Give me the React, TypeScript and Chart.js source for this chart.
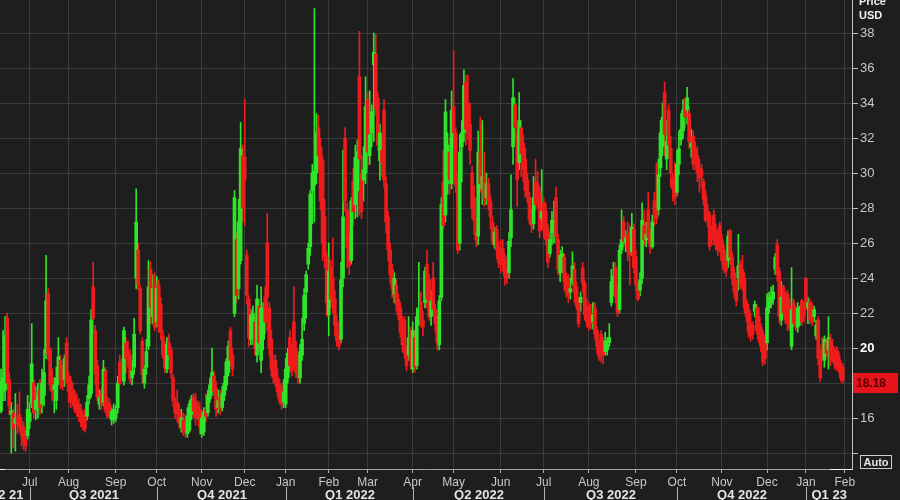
import React, { useEffect, useRef } from 'react';
import { Chart, registerables } from 'chart.js';
Chart.register(...registerables);

// Daily candles (trading days)
const opens = [
16.4,17.5,17.6,21.7,18.2,16.2,16.3,15.7,16.0,16.2,
15.6,15.5,14.8,15.0,15.8,16.9,18.0,16.5,16.6,17.6,
16.8,17.3,19.7,23.1,19.9,18.3,17.6,17.0,18.3,19.3,
18.6,18.2,20.3,18.4,18.1,17.6,17.3,17.0,16.8,16.5,
16.2,16.2,16.1,17.1,17.4,23.5,21.0,19.0,16.8,17.4,
16.9,18.7,16.9,16.8,15.9,15.9,16.0,16.6,19.2,19.0,
18.1,20.3,19.8,19.6,18.3,18.9,24.0,25.6,23.4,20.4,
18.0,18.9,20.1,24.5,21.8,23.6,21.5,23.6,22.5,20.7,
19.9,18.8,20.3,19.9,18.3,16.8,16.9,16.4,15.5,15.9,
15.5,15.1,15.3,16.2,17.2,16.9,16.7,16.5,15.1,15.2,
16.5,16.3,17.1,17.5,18.4,17.7,16.6,17.2,16.6,17.3,
17.9,18.6,21.0,19.6,22.0,26.2,23.4,25.0,31.0,30.9,
25.3,22.8,20.5,20.6,21.5,19.6,22.4,19.3,20.5,23.0,
26.0,22.3,20.5,19.0,19.3,18.3,17.9,17.6,16.9,16.8,
18.3,20.6,19.8,21.5,20.0,19.2,18.3,19.6,21.4,23.2,
24.8,25.8,29.0,29.3,30.0,32.6,31.5,30.7,27.5,25.2,
21.9,24.6,24.0,22.8,21.5,20.5,20.5,24.0,32.0,27.9,
25.9,25.0,29.5,28.2,29.0,35.5,30.0,29.6,30.0,34.2,
31.0,32.3,36.2,36.8,34.3,30.7,31.3,33.6,29.4,27.5,
25.6,24.5,23.1,23.6,22.8,22.3,21.3,21.6,19.8,19.6,
20.9,18.8,20.6,19.0,21.8,22.6,21.6,22.6,24.8,23.9,
21.8,24.0,22.2,21.5,20.2,22.9,29.5,27.6,29.4,31.2,
29.4,33.8,32.3,29.6,26.0,31.5,32.3,35.2,34.0,32.8,
30.0,28.6,26.7,26.4,31.2,29.1,29.8,28.6,29.4,28.4,
27.2,25.9,26.8,25.8,25.5,25.7,25.2,24.3,24.3,26.3,
31.5,33.9,32.3,30.6,32.6,31.7,30.8,29.6,28.6,27.6,
27.1,29.5,29.4,28.9,27.4,28.3,27.8,26.8,25.4,26.6,
26.9,28.6,26.2,24.3,24.9,25.2,24.1,23.6,23.2,23.8,
24.5,23.5,22.6,22.6,24.6,23.7,22.4,22.4,22.0,21.5,
22.3,21.0,20.2,20.8,20.4,19.8,19.9,20.3,22.6,23.3,
24.6,23.2,22.2,25.6,27.2,26.0,26.4,26.6,25.5,26.8,
25.2,23.7,23.3,24.0,27.0,26.2,27.9,26.5,25.8,28.4,
28.5,27.9,30.3,31.5,34.6,30.8,33.6,31.4,29.7,29.4,
28.9,30.5,31.9,32.4,33.9,33.6,33.4,31.5,32.1,31.4,
31.0,30.3,30.2,29.5,28.7,27.8,27.6,26.6,27.6,26.8,
26.4,27.0,26.2,25.6,25.0,25.0,26.7,25.2,24.3,23.6,
24.0,24.8,24.5,24.0,22.6,22.2,21.4,21.3,22.1,22.3,
21.8,21.2,20.8,20.4,20.3,22.3,22.6,22.8,24.5,25.9,
24.4,21.6,23.5,22.6,23.1,22.4,20.1,22.6,22.1,21.2,
21.6,22.7,22.4,24.0,22.3,22.6,22.3,21.8,20.7,21.6,
19.6,20.2,19.3,20.3,19.9,20.5,20.1,19.9,19.9,19.6,
19.1,18.9
];
const highs = [
18.8,21.0,21.8,22.0,18.6,16.9,16.5,17.4,16.8,17.5,
16.0,15.8,15.3,17.3,16.9,21.4,18.2,17.8,18.0,18.2,
18.8,19.9,25.3,23.4,20.0,18.8,18.3,18.9,20.6,19.6,
19.0,19.6,20.6,18.6,18.4,18.0,17.6,17.4,17.1,16.8,
16.4,16.5,17.3,18.4,22.2,24.9,21.3,19.3,17.6,17.7,
19.3,18.9,17.2,17.1,16.6,16.8,16.7,18.4,19.6,19.4,
21.2,20.6,20.4,19.9,19.3,21.7,29.1,26.0,23.6,20.6,
19.0,20.5,25.0,24.9,24.2,24.3,24.1,23.9,22.9,21.0,
20.4,20.6,20.8,20.1,18.5,17.2,17.6,16.8,16.5,16.3,
16.2,16.6,17.0,17.3,17.4,17.4,17.0,16.9,16.4,16.6,
17.4,17.6,18.3,20.0,18.7,18.1,17.6,17.6,17.8,18.4,
19.4,20.4,21.2,20.0,29.0,26.6,28.5,32.9,31.6,34.2,
25.6,23.0,22.2,22.4,21.8,23.6,22.8,23.5,22.6,23.5,
27.7,22.6,21.0,19.6,19.6,18.8,18.2,18.0,18.2,19.4,
20.0,21.0,20.2,23.5,20.4,19.6,20.2,21.7,23.4,24.4,
26.0,29.0,30.5,39.4,33.4,33.3,32.0,31.0,28.5,25.5,
26.0,25.0,26.3,23.3,21.9,20.8,24.9,31.3,32.6,28.3,
26.5,28.6,30.3,31.6,31.9,38.1,31.0,31.5,35.5,34.6,
34.7,33.9,38.0,37.9,34.6,32.8,32.0,34.2,29.8,27.8,
26.0,24.8,24.3,23.9,23.1,22.6,21.8,21.8,20.1,21.8,
21.2,21.5,21.0,22.3,24.9,23.2,22.1,24.6,25.6,24.2,
23.3,24.9,22.5,21.8,23.0,28.6,31.3,34.2,32.3,32.0,
34.7,37.0,32.6,30.1,32.2,33.0,35.9,35.6,35.6,34.0,
30.4,29.3,27.4,32.4,33.2,33.0,31.2,30.0,29.7,28.7,
27.5,26.9,27.0,26.1,26.2,26.2,25.4,24.6,26.6,29.9,
35.4,34.3,32.6,34.6,33.0,32.2,31.4,30.0,28.9,27.9,
29.8,30.8,30.1,29.2,30.2,28.6,28.3,27.1,26.6,27.8,
28.4,29.2,26.5,25.6,25.8,25.4,24.3,24.2,24.0,25.5,
24.9,23.8,22.9,23.2,24.9,23.9,22.8,22.6,22.5,22.6,
22.6,21.2,20.4,21.0,20.6,20.9,20.6,21.4,24.5,24.9,
24.9,23.7,25.9,27.9,27.5,26.7,27.2,27.0,27.7,27.1,
25.6,23.8,24.3,28.3,27.9,27.2,28.9,26.8,27.6,28.9,
30.6,30.8,33.0,34.0,35.2,33.0,33.9,32.1,30.0,30.6,
31.3,32.4,33.4,34.2,34.3,34.9,33.8,32.5,32.4,31.8,
31.5,30.8,30.5,29.7,29.0,28.2,27.8,27.0,27.9,27.1,
26.7,27.2,26.5,25.9,25.3,26.7,26.8,25.5,24.6,23.9,
26.5,25.0,25.3,24.3,22.8,22.5,22.0,21.5,22.7,22.5,
22.3,21.4,21.0,20.6,23.1,23.2,23.5,23.6,25.4,26.2,
24.6,23.8,23.6,23.2,23.3,22.8,24.6,22.8,22.4,22.6,
22.4,22.8,22.6,24.0,22.9,22.8,22.6,22.4,21.6,21.8,
19.9,20.6,20.7,20.5,21.8,20.8,20.5,20.0,20.1,19.8,
19.3,19.1
];
const lows = [
16.3,17.0,17.0,17.6,16.2,14.0,14.3,14.1,15.1,15.2,
14.4,14.2,14.1,14.8,15.4,16.6,16.0,15.9,16.0,16.2,
16.3,16.7,19.4,19.3,17.6,17.0,16.3,16.5,17.9,17.7,
17.6,17.8,18.0,16.9,16.6,16.7,16.3,16.1,15.8,15.5,
15.3,15.2,15.9,16.8,17.2,20.8,17.9,17.0,16.5,16.5,
16.7,16.3,16.0,16.0,15.6,15.7,15.8,16.3,17.9,18.2,
17.9,18.6,18.9,18.0,17.9,18.5,23.4,23.3,20.8,18.0,
17.7,18.5,19.9,21.4,21.4,21.0,21.2,20.9,20.5,19.4,
18.6,18.6,19.3,18.3,16.7,16.0,15.8,15.4,15.2,15.0,
14.9,14.9,15.2,15.9,16.0,15.6,15.9,15.1,14.9,15.0,
15.8,16.1,16.9,17.3,17.2,16.1,16.3,16.2,16.4,17.0,
17.6,18.4,19.0,18.4,21.8,22.6,22.8,24.8,27.2,27.0,
22.5,20.1,20.2,20.2,19.6,19.2,19.8,18.6,19.9,20.8,
21.0,19.6,18.4,18.0,17.8,17.2,16.8,16.5,16.6,16.6,
18.0,18.6,18.4,18.8,18.3,18.0,18.0,19.3,21.0,21.7,
24.5,25.3,27.1,27.2,29.4,30.2,27.9,25.0,24.6,21.8,
20.7,22.3,22.0,20.7,20.1,19.9,20.3,23.5,27.8,24.6,
24.2,24.8,27.0,27.4,27.5,27.6,27.4,28.4,29.4,30.4,
30.5,31.5,31.8,33.3,31.3,29.6,29.8,29.2,26.6,25.0,
23.7,22.9,22.6,22.1,21.6,20.6,19.8,19.4,18.7,19.3,
18.8,18.6,18.6,18.8,21.3,21.2,20.7,22.3,22.3,21.6,
21.3,21.9,20.9,19.9,19.9,22.7,26.8,27.2,28.8,28.8,
29.1,31.5,28.9,25.4,25.6,29.5,31.8,31.6,31.9,30.5,
27.4,26.5,25.8,25.9,28.9,28.2,28.1,28.2,27.9,26.8,
25.9,25.7,25.1,24.6,24.3,24.4,23.6,23.7,24.0,25.8,
30.5,31.9,28.1,30.2,29.8,29.5,28.6,28.3,27.1,26.6,
26.8,27.9,28.0,26.3,26.8,26.3,25.9,24.6,25.2,25.9,
26.0,26.0,24.2,23.8,24.3,23.3,22.9,22.6,22.8,23.6,
22.6,22.2,21.2,22.1,23.2,21.6,21.2,21.0,21.1,21.1,
20.5,19.7,19.3,19.2,19.1,19.6,19.6,20.1,22.4,23.0,
22.6,21.8,22.0,25.4,25.8,25.5,25.0,23.6,25.3,24.3,
23.3,22.7,23.0,23.7,25.9,25.8,26.0,25.4,25.7,27.0,
27.1,27.6,29.8,31.0,31.0,30.2,30.9,29.2,28.4,28.2,
28.7,29.9,31.6,32.0,32.6,32.8,31.4,30.9,30.2,30.2,
29.5,28.9,29.2,28.2,27.2,26.9,25.6,25.9,25.9,25.6,
25.3,25.5,24.8,24.3,24.1,24.6,24.8,23.6,22.9,22.4,
23.3,23.4,23.3,22.0,21.5,20.6,20.4,20.5,21.8,20.8,
20.3,19.8,19.0,19.1,19.9,22.0,22.3,22.5,24.2,23.8,
21.4,21.3,21.8,21.4,21.0,21.0,19.9,21.2,21.0,20.9,
21.3,21.3,21.5,22.2,21.4,21.4,21.3,21.5,20.5,19.0,
18.1,19.3,18.9,19.5,18.8,19.0,19.2,18.8,18.7,18.6,
18.1,18.0
];
const closes = [
18.1,18.3,20.7,18.0,16.7,16.4,15.4,16.0,15.7,15.5,
15.0,14.6,14.4,16.5,16.3,19.1,16.3,17.0,17.3,16.6,
18.0,18.6,22.7,19.6,17.9,17.5,17.9,18.3,19.5,18.2,
17.8,19.4,18.2,17.5,16.9,17.0,16.5,16.4,16.1,15.8,
15.5,15.4,16.9,17.9,21.6,21.7,18.5,17.2,17.2,16.8,
18.8,16.4,16.1,16.3,16.4,16.5,16.4,18.0,18.0,18.8,
21.0,19.4,19.5,18.2,18.7,20.8,27.2,23.6,21.0,18.5,
18.8,19.8,23.5,22.3,23.4,21.2,23.4,21.3,20.9,19.6,
18.9,20.2,19.6,18.6,17.0,16.3,16.2,15.7,16.0,15.2,
15.3,16.1,16.8,17.1,16.4,16.0,16.2,15.5,16.0,16.3,
16.1,17.3,17.9,18.6,17.5,16.5,17.0,16.5,17.4,18.0,
19.2,20.1,19.3,18.8,28.6,23.0,27.2,31.4,28.0,29.6,
23.0,20.6,21.9,22.0,20.0,22.8,20.3,22.3,21.8,21.5,
22.9,20.0,18.8,18.3,18.0,17.5,17.0,16.8,17.5,18.8,
19.7,19.0,18.7,19.2,18.6,18.3,19.8,20.5,23.0,24.2,
25.7,28.8,30.0,30.1,32.3,31.0,28.4,26.0,25.2,22.6,
24.4,22.8,22.6,21.3,20.4,20.1,23.9,27.5,28.4,25.7,
24.7,28.4,27.8,30.9,31.2,30.8,27.8,30.2,33.8,31.2,
32.2,33.5,36.9,33.7,31.6,32.3,30.6,29.6,27.2,25.6,
24.2,23.4,24.0,22.5,21.9,20.9,20.2,19.7,19.0,20.6,
19.4,21.0,18.9,21.8,22.2,21.6,21.2,24.4,22.8,21.8,
22.7,22.2,21.4,20.3,22.7,28.2,27.0,33.5,31.6,29.6,
33.6,32.3,29.3,25.6,31.2,32.3,35.0,32.5,32.3,31.3,
28.0,27.3,26.2,31.2,29.4,29.8,28.5,29.4,28.4,27.5,
26.1,26.6,25.6,24.9,24.8,25.0,24.1,24.0,26.1,27.9,
34.3,32.6,29.6,33.0,31.1,30.2,29.0,28.7,27.3,27.0,
28.6,28.2,28.7,26.7,27.8,26.7,26.2,24.9,26.2,27.3,
27.3,26.4,24.5,25.3,25.4,23.8,23.2,23.0,23.4,24.7,
23.2,22.4,21.4,22.9,23.7,21.9,21.5,21.2,21.4,21.9,
20.8,20.1,19.5,19.9,19.6,20.4,20.2,20.6,23.8,24.1,
22.9,22.0,25.6,26.2,26.1,26.3,25.6,25.3,26.9,24.6,
23.6,22.8,23.9,27.3,26.2,26.5,26.3,25.8,27.2,27.6,
27.4,29.9,32.3,33.2,32.2,31.8,31.6,30.0,29.1,28.6,
30.5,31.4,32.5,33.6,33.2,34.3,31.8,31.7,30.5,30.8,
30.0,29.7,29.8,28.5,27.3,27.4,25.8,26.2,26.3,25.9,
25.6,25.9,25.0,24.5,24.4,26.4,25.2,24.0,23.2,22.7,
24.7,23.6,23.5,22.3,21.8,20.9,20.7,20.8,22.5,21.0,
20.5,20.1,19.2,19.4,22.3,22.9,23.0,23.2,25.2,24.2,
21.8,22.9,22.0,21.6,21.4,21.2,22.2,21.4,21.3,22.3,
22.1,21.5,21.8,22.4,22.6,21.6,21.5,22.2,21.3,19.4,
18.3,19.5,20.5,19.7,20.6,19.3,19.4,19.1,18.9,18.8,
18.3,18.18
];
const emptySlotsAtEnd = 4;

// Axis labels
const monthLabels = ['Jul','Aug','Sep','Oct','Nov','Dec','Jan','Feb','Mar','Apr','May','Jun','Jul','Aug','Sep','Oct','Nov','Dec','Jan','Feb'];
const monthSlots = [14,33,56,76,98,119,139,160,179,201,221,244,265,287,310,330,352,374,393,412];
const quarterLabels = ['Q2 21','Q3 2021','Q4 2021','Q1 2022','Q2 2022','Q3 2022','Q4 2022','Q1 23'];
const quarterStarts = [14,76,139,201,265,330,393];
const yMin = 13.09;
const yMax = 39.89;
const yStep = 2;
const hiddenYLabels = [14, 18];
const boldYLabel = 20;
const lastPrice = 18.18;

const BG = '#1e1e1e';
const GRID = '#3b3b3b';
const GREEN = '#2ee52a';
const RED = '#ee1c1c';
const TXT = '#c8c8c8';
const FONT = '"Liberation Sans", Arial, sans-serif';

export default function App() {
  const ref = useRef<HTMLCanvasElement>(null);
  useEffect(() => {
    const canvas = ref.current;
    if (!canvas) return;
    const n = closes.length + emptySlotsAtEnd;
    const labels = Array.from({ length: n }, (_, i) => String(i));
    const colors = labels.map((_, i) => (i < closes.length && closes[i] >= opens[i] ? GREEN : RED));
    const wicks = labels.map((_, i) => (i < closes.length ? [lows[i], highs[i]] : null));
    const bodies = labels.map((_, i) =>
      i < closes.length ? [Math.min(opens[i], closes[i]), Math.max(opens[i], closes[i])] : null
    );

    const overlay = {
      id: 'overlay',
      beforeDraw(chart: any) {
        const c = chart.ctx;
        c.save();
        c.fillStyle = BG;
        c.fillRect(0, 0, chart.width, chart.height);
        c.restore();
      },
      afterDraw(chart: any) {
        const c = chart.ctx;
        const xs = chart.scales.x;
        const ys = chart.scales.y;
        const area = chart.chartArea;
        c.save();
        // quarter separators
        c.strokeStyle = '#b4b4b4';
        c.lineWidth = 1;
        const qx = quarterStarts.map((s) => Math.round(xs.getPixelForValue(s)) + 0.5);
        qx.forEach((px) => {
          c.beginPath();
          c.moveTo(px, 487);
          c.lineTo(px, 500);
          c.stroke();
        });
        // quarter labels
        c.font = 'bold 13px ' + FONT;
        c.fillStyle = '#e4e4e4';
        c.textBaseline = 'middle';
        quarterLabels.forEach((lab, k) => {
          if (k === 0) {
            c.textAlign = 'right';
            c.fillText(lab, qx[0] - 7, 495);
          } else if (k === quarterLabels.length - 1) {
            c.textAlign = 'left';
            c.fillText(lab, qx[k - 1] + 5, 495);
          } else {
            c.textAlign = 'center';
            c.fillText(lab, (qx[k - 1] + qx[k]) / 2, 495);
          }
        });
        // bright segments on bottom axis
        c.strokeStyle = '#f0f0f0';
        c.beginPath();
        c.moveTo(area.right - 22, area.bottom + 0.5);
        c.lineTo(area.right, area.bottom + 0.5);
        c.moveTo(0, area.bottom + 0.5);
        c.lineTo(5, area.bottom + 0.5);
        c.stroke();
        // Price / USD header
        c.font = 'bold 11px ' + FONT;
        c.fillStyle = '#f0f0f0';
        c.textAlign = 'left';
        c.fillText('Price', 859, 2);
        c.fillText('USD', 859, 16);
        // last price box
        const py = ys.getPixelForValue(lastPrice);
        c.fillStyle = '#e8141c';
        c.fillRect(area.right + 1, Math.round(py) - 7, 45, 20);
        c.fillStyle = '#5a0000';
        c.font = 'bold 12px ' + FONT;
        c.fillText(lastPrice.toFixed(2), 856, py + 3.5);
        // Auto box
        c.strokeStyle = '#d0d0d0';
        c.strokeRect(860.5, 455.5, 31, 13);
        c.fillStyle = '#e6e6e6';
        c.font = 'bold 11px ' + FONT;
        c.textAlign = 'center';
        c.fillText('Auto', 876, 462.5);
        c.restore();
      },
    };

    const chart = new Chart(canvas, {
      type: 'bar',
      data: {
        labels,
        datasets: [
          {
            label: 'body',
            data: bodies as any,
            backgroundColor: colors,
            borderWidth: 0,
            barThickness: 3,
            minBarLength: 2,
            grouped: false,
            order: 0,
          } as any,
          {
            label: 'wick',
            data: wicks as any,
            backgroundColor: colors,
            borderWidth: 0,
            barThickness: 1,
            grouped: false,
            order: 1,
          } as any,
        ],
      },
      options: {
        responsive: false,
        devicePixelRatio: 1,
        animation: false,
        layout: { padding: 0 },
        plugins: { legend: { display: false }, tooltip: { enabled: false } },
        scales: {
          x: {
            type: 'category',
            offset: true,
            afterBuildTicks: (s: any) => {
              s.ticks = monthSlots.map((v) => ({ value: v }));
            },
            afterFit: (s: any) => {
              s.height = 31;
              s.paddingLeft = 0;
              s.paddingRight = 0;
            },
            grid: { offset: false, color: GRID, lineWidth: 1, drawTicks: true, tickLength: 4, tickColor: '#b0b0b0' },
            border: { display: true, color: '#a0a0a0' },
            ticks: {
              autoSkip: false,
              maxRotation: 0,
              minRotation: 0,
              padding: 2,
              color: TXT,
              font: { family: FONT, size: 12 },
              callback: (_v: any, i: number) => monthLabels[i],
            },
          } as any,
          y: {
            position: 'right',
            min: yMin,
            max: yMax,
            afterFit: (s: any) => {
              s.width = 48;
              s.paddingTop = 0;
              s.paddingBottom = 0;
            },
            grid: { color: GRID, lineWidth: 1, drawTicks: true, tickLength: 6, tickColor: '#c0c0c0' },
            border: { display: true, color: '#c0c0c0' },
            ticks: {
              stepSize: yStep,
              includeBounds: false,
              padding: 2,
              crossAlign: 'near',
              color: (ctx: any) => (ctx.tick && ctx.tick.value === boldYLabel ? '#ffffff' : TXT),
              font: (ctx: any) => ({
                family: FONT,
                size: 13,
                weight: ctx.tick && ctx.tick.value === boldYLabel ? 'bold' : 'normal',
              }),
              callback: (v: any) => (hiddenYLabels.includes(Number(v)) ? '' : String(v)),
            },
          } as any,
        },
      },
      plugins: [overlay],
    });
    return () => chart.destroy();
  }, []);

  return (
    <div style={{ position: 'fixed', left: 0, top: 0, width: 900, height: 500, background: BG }}>
      <canvas ref={ref} width={900} height={500} style={{ display: 'block' }} />
    </div>
  );
}
